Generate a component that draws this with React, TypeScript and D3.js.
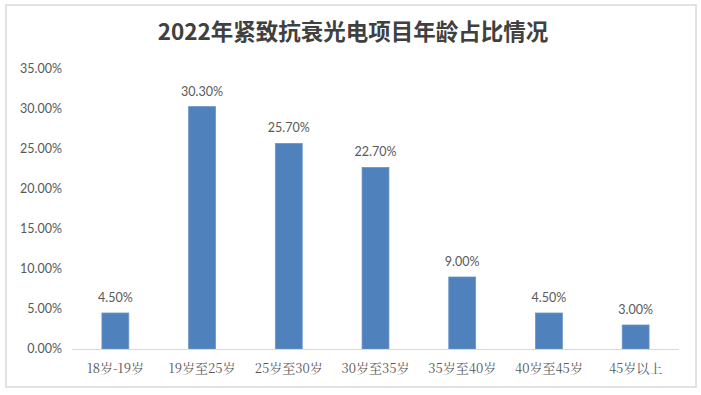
import { useEffect, useRef } from "react";
import * as d3 from "d3";

// ── Data ──────────────────────────────────────────────────────────────────────

const CATEGORIES = ["18岁-19岁", "19岁至25岁", "25岁至30岁", "30岁至35岁", "35岁至40岁", "40岁至45岁", "45岁以上"];
const VALUES = [4.5, 30.3, 25.7, 22.7, 9.0, 4.5, 3.0];
const Y_TICKS = [0, 5, 10, 15, 20, 25, 30, 35];
const TITLE = "2022年紧致抗衰光电项目年龄占比情况";

// ── Config ────────────────────────────────────────────────────────────────────

const W = 701;
const H = 395;
const MARGIN = { top: 69, right: 22, bottom: 46, left: 72 };
const BAR_COLOR = "#4F81BD";
const TEXT_COLOR = "#595959";
const NUM_FONT = "Lato, 'Open Sans', sans-serif";
const CJK_FONT = "'Noto Serif CJK SC', 'Noto Sans CJK SC', serif";

// ── Component ─────────────────────────────────────────────────────────────────

const App = () => {
  const svgRef = useRef<SVGSVGElement>(null);

  useEffect(() => {
    if (!svgRef.current) return;
    const root = d3.select(svgRef.current);
    root.selectAll("*").remove();

    const width = W - MARGIN.left - MARGIN.right;
    const height = H - MARGIN.top - MARGIN.bottom;

    // frame
    root.append("rect")
      .attr("x", 6).attr("y", 5)
      .attr("width", 690).attr("height", 382)
      .attr("fill", "white")
      .attr("stroke", "#D9D9D9")
      .attr("stroke-width", 1.5);

    root.append("text")
      .attr("x", 353).attr("y", 40)
      .attr("text-anchor", "middle")
      .attr("font-family", "'Noto Sans CJK SC', sans-serif")
      .attr("font-size", 22.5)
      .attr("font-weight", "bold")
      .attr("fill", "#404040")
      .text(TITLE);

    const g = root.append("g")
      .attr("transform", `translate(${MARGIN.left},${MARGIN.top})`);

    const x = d3.scaleBand().domain(CATEGORIES).range([0, width]).paddingInner(0.69).paddingOuter(0.345);
    const y = d3.scaleLinear().domain([0, 35]).range([height, 0]);

    // Y labels
    g.selectAll(".ytick")
      .data(Y_TICKS)
      .join("text")
      .attr("x", -10)
      .attr("y", (d) => y(d))
      .attr("dy", "0.35em")
      .attr("text-anchor", "end")
      .attr("font-family", NUM_FONT)
      .attr("font-size", 12.5)
      .attr("fill", TEXT_COLOR)
      .text((d) => `${d.toFixed(2)}%`);

    // bars
    g.selectAll(".bar")
      .data(VALUES)
      .join("rect")
      .attr("x", (_, i) => x(CATEGORIES[i]) ?? 0)
      .attr("y", (d) => y(d))
      .attr("width", x.bandwidth())
      .attr("height", (d) => height - y(d))
      .attr("fill", BAR_COLOR)
      .attr("stroke", "#6D95C8")
      .attr("stroke-width", 0.8);

    // value labels
    g.selectAll(".val")
      .data(VALUES)
      .join("text")
      .attr("x", (_, i) => (x(CATEGORIES[i]) ?? 0) + x.bandwidth() / 2)
      .attr("y", (d) => y(d) - 11)
      .attr("text-anchor", "middle")
      .attr("font-family", NUM_FONT)
      .attr("font-size", 12.5)
      .attr("fill", TEXT_COLOR)
      .text((d) => `${d.toFixed(2)}%`);

    // x axis line
    g.append("line")
      .attr("x1", 0).attr("x2", width)
      .attr("y1", height + 0.5).attr("y2", height + 0.5)
      .attr("stroke", "#D9D9D9");

    // x labels
    g.selectAll(".xlab")
      .data(CATEGORIES)
      .join("text")
      .attr("x", (d) => (x(d) ?? 0) + x.bandwidth() / 2)
      .attr("y", height + 19)
      .attr("dy", "0.35em")
      .attr("text-anchor", "middle")
      .attr("font-family", CJK_FONT)
      .attr("font-size", 13)
      .attr("fill", TEXT_COLOR)
      .text((d) => d);
  }, []);

  return <svg ref={svgRef} width={W} height={H} style={{ display: "block", position: "absolute", left: 0, top: 0 }} />;
};

export default App;
